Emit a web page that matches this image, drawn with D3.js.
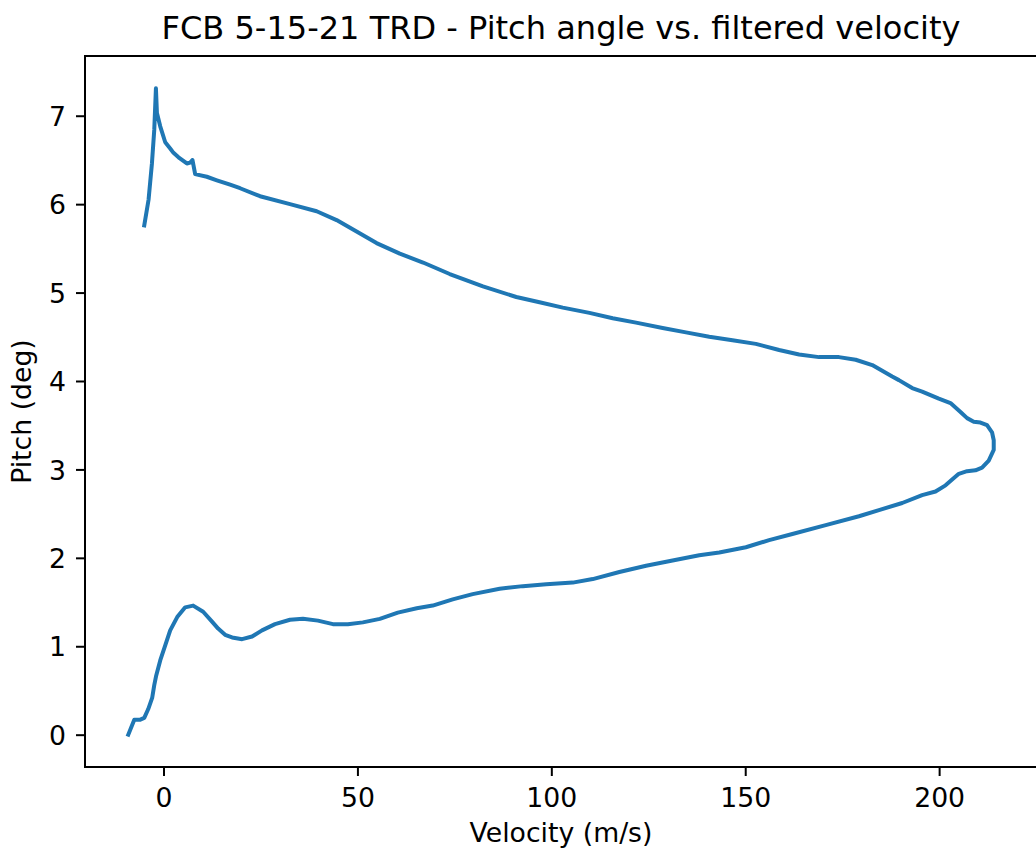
<!DOCTYPE html>
<html>
<head>
<meta charset="utf-8">
<script src="https://cdn.jsdelivr.net/npm/d3@7"></script>
<style>
  html, body { margin: 0; padding: 0; background: #fff; }
  svg { display: block; font-family: "DejaVu Sans", sans-serif; }
</style>
</head>
<body>
<div id="chart"></div>
<script>
// flight trace, in time order: lower branch out, upper branch back
const velocity = [
  -9.09, -7.54, -5.99, -4.97, -3.94, -2.91, -2.39, -1.88, -0.85, 0.44,
  1.72, 3.53, 5.59, 7.64, 10.22, 12.28, 14.08, 15.88, 17.68, 20.26,
  22.83, 25.40, 28.75, 32.61, 35.96, 39.82, 43.68, 47.54, 51.40, 55.78,
  60.41, 65.30, 69.42, 74.57, 79.72, 86.67, 92.66, 98.69, 105.53, 110.68,
  117.55, 124.43, 131.27, 138.15, 143.30, 150.17, 156.16, 162.16, 170.76, 179.33,
  184.48, 190.48, 195.62, 199.07, 201.65, 205.07, 207.21, 209.37, 211.07, 212.79,
  214.08, 214.08, 213.64, 212.36, 210.66, 208.93, 207.21, 205.51, 202.93, 199.92,
  195.62, 193.05, 189.63, 187.90, 182.75, 178.48, 174.18, 169.03, 163.89, 158.74,
  152.74, 146.72, 140.72, 134.72, 128.70, 121.85, 115.83, 109.83, 102.96, 96.96,
  90.97, 82.37, 73.80, 66.92, 60.93, 54.93, 49.78, 44.63, 39.49, 32.61,
  24.89, 19.74, 17.17, 13.75, 11.17, 8.16, 7.46, 6.87, 6.02, 3.86,
  2.57, 1.72, 0.44, -0.85, -1.70, -1.96, -2.39, -2.99, -3.86, -4.97
];
const pitch = [
  0.00, 0.17, 0.17, 0.19, 0.29, 0.42, 0.56, 0.67, 0.84, 1.01,
  1.18, 1.33, 1.44, 1.46, 1.39, 1.29, 1.20, 1.13, 1.10, 1.08,
  1.11, 1.18, 1.25, 1.30, 1.31, 1.29, 1.25, 1.25, 1.27, 1.31,
  1.38, 1.43, 1.46, 1.53, 1.59, 1.65, 1.68, 1.70, 1.72, 1.76,
  1.84, 1.91, 1.97, 2.03, 2.06, 2.12, 2.20, 2.27, 2.37, 2.47,
  2.54, 2.62, 2.71, 2.75, 2.82, 2.95, 2.98, 2.99, 3.02, 3.10,
  3.22, 3.33, 3.42, 3.50, 3.53, 3.54, 3.58, 3.65, 3.75, 3.80,
  3.88, 3.92, 4.01, 4.05, 4.18, 4.24, 4.27, 4.27, 4.30, 4.35,
  4.42, 4.46, 4.50, 4.55, 4.60, 4.66, 4.71, 4.77, 4.83, 4.89,
  4.95, 5.07, 5.21, 5.34, 5.44, 5.56, 5.69, 5.82, 5.92, 6.00,
  6.09, 6.18, 6.22, 6.27, 6.31, 6.34, 6.50, 6.47, 6.46, 6.53,
  6.58, 6.63, 6.70, 6.88, 7.03, 7.31, 6.84, 6.46, 6.05, 5.76
];
const xTicks = [0, 50, 100, 150, 200];
const yTicks = [0, 1, 2, 3, 4, 5, 6, 7];

const TITLE = 'FCB 5-15-21 TRD - Pitch angle vs. filtered velocity';
const X_LABEL = 'Velocity (m/s)';
const Y_LABEL = 'Pitch (deg)';

const WIDTH = 1036;
const HEIGHT = 852;
const PLOT = { left: 85, right: 1037, top: 56, bottom: 767 };
const LINE_COLOR = '#1f77b4';
const FONT = 26.7;

// matplotlib-style 5% autoscale margin
function padded(values) {
  const [lo, hi] = d3.extent(values);
  const m = (hi - lo) * 0.05;
  return [lo - m, hi + m];
}

const points = velocity.map((v, i) => [v, pitch[i]]);

const svg = d3.select('#chart')
  .append('svg')
  .attr('width', WIDTH)
  .attr('height', HEIGHT);

const xScale = d3.scaleLinear()
  .domain(padded(velocity))
  .range([PLOT.left, PLOT.right]);
const yScale = d3.scaleLinear()
  .domain(padded(pitch))
  .range([PLOT.bottom, PLOT.top]);

const line = d3.line()
  .x((d) => xScale(d[0]))
  .y((d) => yScale(d[1]));

svg.append('path')
  .datum(points)
  .attr('d', line)
  .attr('fill', 'none')
  .attr('stroke', LINE_COLOR)
  .attr('stroke-width', 4)
  .attr('stroke-linejoin', 'round')
  .attr('stroke-linecap', 'square');

// axes
const xAxis = d3.axisBottom(xScale)
  .tickValues(xTicks)
  .tickSize(9)
  .tickFormat(d3.format('d'));
const xAxisG = svg.append('g')
  .attr('transform', `translate(0,${PLOT.bottom})`)
  .call(xAxis);

const yAxis = d3.axisLeft(yScale)
  .tickValues(yTicks)
  .tickSize(9)
  .tickFormat(d3.format('d'));
const yAxisG = svg.append('g')
  .attr('transform', `translate(${PLOT.left},0)`)
  .call(yAxis);

[xAxisG, yAxisG].forEach((g) => {
  g.select('.domain').remove();
  g.selectAll('line').attr('stroke', '#000').attr('stroke-width', 2);
  g.selectAll('text')
    .attr('fill', '#000')
    .attr('font-size', `${FONT}px`)
    .attr('font-family', '"DejaVu Sans", sans-serif');
});
xAxisG.selectAll('text').attr('y', 40).attr('dy', 0);
yAxisG.selectAll('text').attr('x', -19).attr('dy', '0.36em');

// frame
svg.append('rect')
  .attr('x', PLOT.left)
  .attr('y', PLOT.top)
  .attr('width', PLOT.right - PLOT.left)
  .attr('height', PLOT.bottom - PLOT.top)
  .attr('fill', 'none')
  .attr('stroke', '#000')
  .attr('stroke-width', 2);

const midX = (PLOT.left + PLOT.right) / 2;

svg.append('text')
  .attr('x', midX)
  .attr('y', 39)
  .attr('text-anchor', 'middle')
  .attr('font-size', `${FONT * 1.2}px`)
  .attr('fill', '#000')
  .text(TITLE);

svg.append('text')
  .attr('x', midX)
  .attr('y', 842)
  .attr('text-anchor', 'middle')
  .attr('font-size', `${FONT}px`)
  .attr('fill', '#000')
  .text(X_LABEL);

svg.append('text')
  .attr('transform', `translate(31,${(PLOT.top + PLOT.bottom) / 2}) rotate(-90)`)
  .attr('text-anchor', 'middle')
  .attr('font-size', `${FONT}px`)
  .attr('fill', '#000')
  .text(Y_LABEL);
</script>
</body>
</html>
